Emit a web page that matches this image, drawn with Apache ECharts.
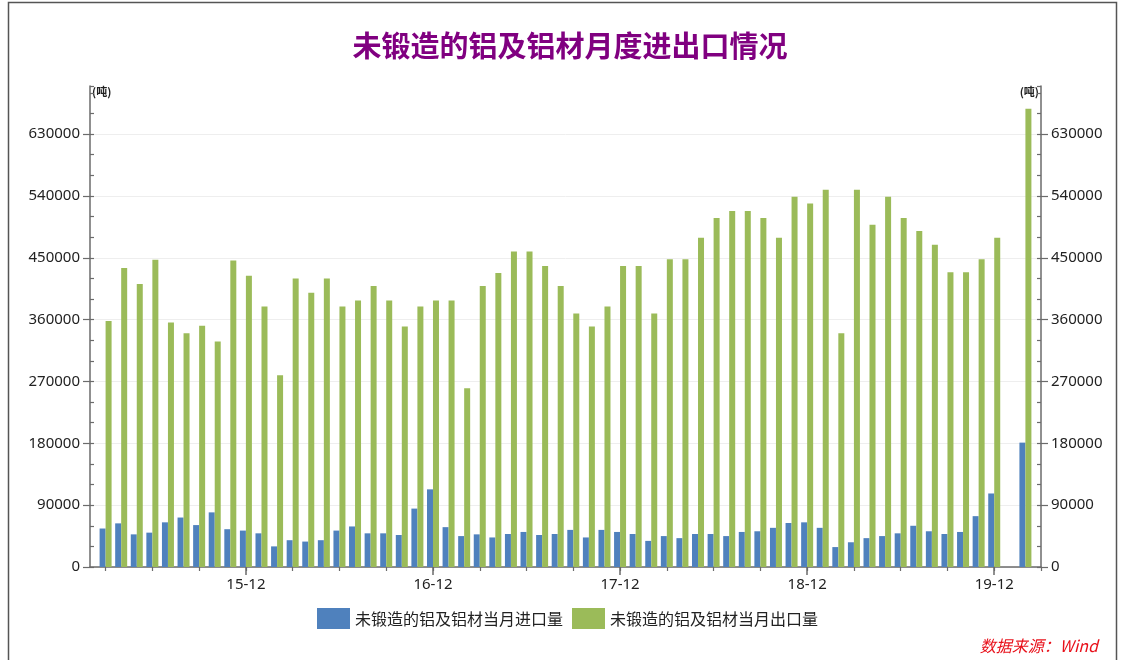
<!DOCTYPE html>
<html>
<head>
<meta charset="utf-8">
<script src="https://cdn.jsdelivr.net/npm/echarts@6/dist/echarts.min.js"></script>
<style>
html,body{margin:0;padding:0;background:#fff;}
#c{width:1121px;height:660px;}
</style>
</head>
<body>
<div id="c"></div>
<script>
// Monthly categories (15-02 and 20-03 are empty padding months shown on the axis ends)
var categories = [
  "15-02","15-03","15-04","15-05","15-06","15-07","15-08","15-09","15-10","15-11","15-12",
  "16-01","16-02","16-03","16-04","16-05","16-06","16-07","16-08","16-09","16-10","16-11","16-12",
  "17-01","17-02","17-03","17-04","17-05","17-06","17-07","17-08","17-09","17-10","17-11","17-12",
  "18-01","18-02","18-03","18-04","18-05","18-06","18-07","18-08","18-09","18-10","18-11","18-12",
  "19-01","19-02","19-03","19-04","19-05","19-06","19-07","19-08","19-09","19-10","19-11","19-12",
  "20-01","20-02","20-03"
];

// 未锻造的铝及铝材当月进口量 (吨)
var importVals = [
  null,
  56000, 63500, 47500, 50000, 65000, 72000, 61000, 79500, 55000, 53000,
  49000, 30000, 39000, 37000, 39000, 53000, 59000, 49000, 49000, 46600, 85000, 113000,
  58000, 45000, 47500, 43000, 48000, 51000, 46600, 48000, 54000, 43000, 54000, 51000,
  48000, 38000, 45000, 42000, 48000, 48000, 45000, 51000, 52000, 57000, 64000, 65000,
  57000, 29000, 36000, 42000, 45000, 49000, 60000, 52000, 48000, 51000, 74000, 107000,
  null, 181000, null
];

// 未锻造的铝及铝材当月出口量 (吨)
var exportVals = [
  null,
  358000, 435000, 412000, 447000, 356000, 340000, 351000, 328000, 446000, 424000,
  379000, 279000, 420000, 399000, 420000, 379000, 388000, 409000, 388000, 350000, 379000, 388000,
  388000, 260000, 409000, 428000, 459000, 459000, 438000, 409000, 369000, 350000, 379000, 438000,
  438000, 369000, 448000, 448000, 479000, 508000, 518000, 518000, 508000, 479000, 539000, 529000,
  549000, 340000, 549000, 498000, 539000, 508000, 489000, 469000, 429000, 429000, 448000, 479000,
  null, 667000, null
];

var seriesNames = ["未锻造的铝及铝材当月进口量", "未锻造的铝及铝材当月出口量"];
var yTickLabels = ["0","90000","180000","270000","360000","450000","540000","630000"];

var FONT = "'Noto Sans CJK SC','Noto Sans',sans-serif";
var NUMFONT = "'Noto Sans','Noto Sans CJK SC',sans-serif";
var AXIS_COLOR = '#6b6b6b';

function valueAxis(pos) {
  return {
    type: 'value', position: pos, min: 0, max: 700000, interval: 90000,
    name: '(吨)', nameLocation: 'end', nameGap: 1,
    nameTextStyle: { fontFamily: FONT, fontSize: 11, fontWeight: 'bold', color: '#222',
      align: pos === 'left' ? 'left' : 'right', verticalAlign: 'bottom',
      padding: pos === 'left' ? [0,0,-12,2] : [0,2,-12,0] },
    axisLine: { show: true, lineStyle: { color: AXIS_COLOR, width: 1.5 } },
    axisTick: { show: true, length: 7, lineStyle: { color: AXIS_COLOR, width: 1.2 } },
    axisLabel: { fontFamily: NUMFONT, fontSize: 15, color: '#222', margin: 10, showMaxLabel: false,
      formatter: function (v) { var i = yTickLabels.indexOf(String(v)); return i >= 0 ? yTickLabels[i] : ''; } },
    splitLine: { show: pos === 'left', showMaxLine: false, lineStyle: { color: '#eeeeee', width: 1 } }
  };
}
function minorAxis(pos) {
  return {
    type: 'value', position: pos, min: 0, max: 700000, interval: 30000,
    axisLine: { show: false },
    axisTick: { show: true, inside: true, length: 4, lineStyle: { color: AXIS_COLOR, width: 1.2 } },
    axisLabel: { show: false },
    splitLine: { show: false }
  };
}

var chart = echarts.init(document.getElementById('c'), null, { renderer: 'canvas' });
chart.setOption({
  animation: false,
  backgroundColor: '#ffffff',
  title: {
    text: '未锻造的铝及铝材月度进出口情况',
    left: 565, top: 26, textAlign: 'center',
    textStyle: { fontFamily: FONT, fontSize: 29, fontWeight: 'bold', color: '#800080' }
  },
  legend: {
    data: seriesNames,
    left: 317, top: 608, padding: 0,
    icon: 'rect', itemWidth: 33, itemHeight: 21, itemGap: 9,
    textStyle: { fontFamily: FONT, fontSize: 16, color: '#222' }
  },
  grid: { left: 90, right: 80, top: 86, bottom: 93, containLabel: false },
  xAxis: [
    {
      type: 'category', data: categories, boundaryGap: false, position: 'bottom',
      axisLine: { lineStyle: { color: AXIS_COLOR, width: 1.5 } },
      axisTick: { show: true, length: 4, interval: function (i) { return i % 3 === 1; },
        lineStyle: { color: AXIS_COLOR, width: 1.2 } },
      axisLabel: { interval: function (i) { return i % 12 === 10; }, fontFamily: NUMFONT,
        fontSize: 15, color: '#222', margin: 10 },
      splitLine: { show: false }
    },
    {
      type: 'category', data: categories, boundaryGap: false, position: 'bottom',
      axisLine: { show: false },
      axisTick: { show: true, length: 8, interval: function (i) { return i % 12 === 10; },
        lineStyle: { color: AXIS_COLOR, width: 1.5 } },
      axisLabel: { show: false },
      splitLine: { show: false }
    }
  ],
  yAxis: [ valueAxis('left'), valueAxis('right'), minorAxis('left'), minorAxis('right') ],
  series: [
    { name: seriesNames[0], type: 'bar', data: importVals, xAxisIndex: 0, yAxisIndex: 0,
      barWidth: 6, barGap: '0%', itemStyle: { color: '#4f81bd' } },
    { name: seriesNames[1], type: 'bar', data: exportVals, xAxisIndex: 0, yAxisIndex: 1,
      barWidth: 6, barGap: '0%', itemStyle: { color: '#9bbb59' } }
  ],
  graphic: [
    { type: 'rect', silent: true, shape: { x: 8.5, y: 2.5, width: 1108, height: 700 },
      style: { fill: 'none', stroke: '#555', lineWidth: 1.5 } },
    { type: 'text', right: 23, top: 638,
      style: { text: '数据来源：Wind', fill: '#e8101a', font: 'italic 16px ' + FONT } }
  ]
});
</script>
</body>
</html>
